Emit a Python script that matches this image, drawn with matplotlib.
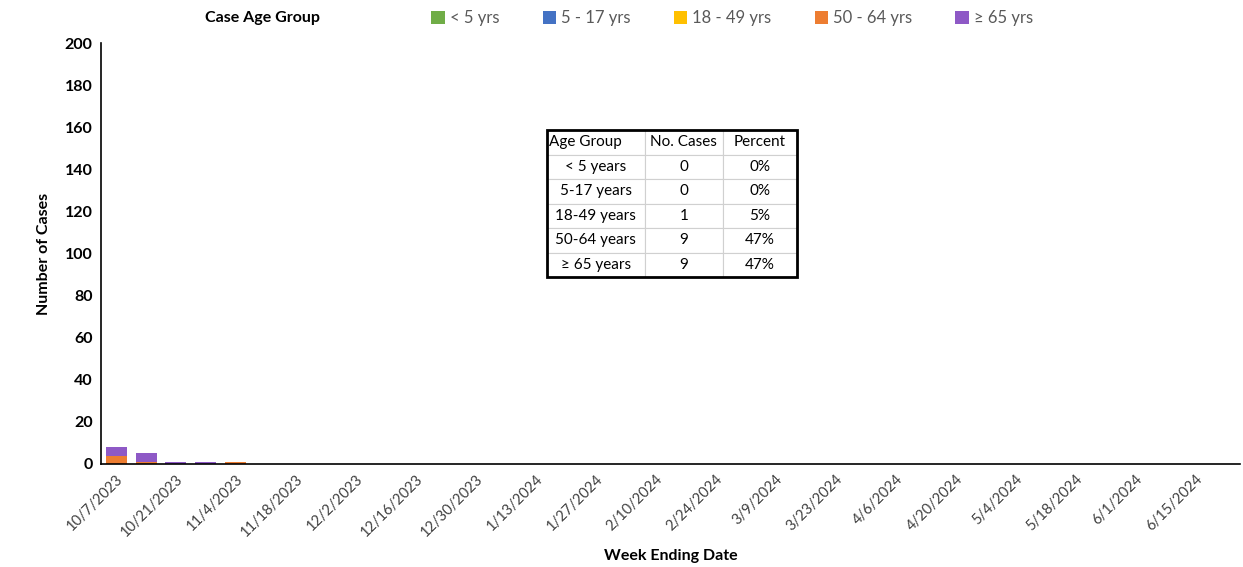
import datetime as dt
import numpy as np
from matplotlib import pyplot as plt
from matplotlib.patches import Rectangle

plt.rcParams['font.family'] = ['Lato', 'DejaVu Sans']

# weekly categories, 10/7/2023 .. 6/22/2024
start = dt.date(2023, 10, 7)
weeks = [start + dt.timedelta(days=7 * i) for i in range(38)]
week_labels = [f'{d.month}/{d.day}/{d.year}' for d in weeks]

groups = ['< 5 yrs', '5 - 17 yrs', '18 - 49 yrs', '50 - 64 yrs', '\u2265 65 yrs']
colors = ['#70AD47', '#4472C4', '#FFC000', '#ED7D31', '#8E59C6']

# cases per week per age group (only first weeks non-zero)
under5 = [0, 0, 0, 0, 0]
age5_17 = [0, 0, 0, 0, 0]
age18_49 = [0, 0, 0, 0, 0]
age50_64 = [4, 1, 0, 0, 1]
age65 = [4, 4, 1, 1, 0]
series = [under5, age5_17, age18_49, age50_64, age65]

table_rows = [['< 5 years', '0', '0%'],
              ['5-17 years', '0', '0%'],
              ['18-49 years', '1', '5%'],
              ['50-64 years', '9', '47%'],
              ['\u2265 65 years', '9', '47%']]
table_cols = ['Age Group', 'No. Cases', 'Percent']

fig = plt.figure(figsize=(12.43, 5.67), dpi=100)
ax = fig.add_axes([0.0813, 0.1817, 0.9163, 0.7423])

x = np.arange(len(weeks))
bottom = np.zeros(len(weeks))
handles = []
for vals, c, name in zip(series, colors, groups):
    v = np.zeros(len(weeks))
    v[:len(vals)] = vals
    h = ax.bar(x, v, width=0.7, bottom=bottom, color=c, label=name)
    handles.append(h)
    bottom += v

ax.set_xlim(-0.5, len(weeks) - 0.5)
ax.set_ylim(0, 200)
ax.set_yticks(range(0, 201, 20))
ax.set_xticks(x[::2])
ax.set_xticklabels(week_labels[::2], rotation=45, ha='right', rotation_mode='anchor',
                   fontsize=10.5, color='#404040')
for lab in ax.get_yticklabels():
    lab.set_fontweight('bold')
    lab.set_fontsize(11.5)
ax.tick_params(axis='both', length=0, pad=6)
ax.tick_params(axis='x', pad=6)
ax.spines['top'].set_visible(False)
ax.spines['right'].set_visible(False)
ax.spines['left'].set_linewidth(1.2)
ax.spines['bottom'].set_linewidth(1.2)
ax.set_ylabel('Number of Cases', fontweight='bold', fontsize=11.5, labelpad=10)
ax.set_xlabel('Week Ending Date', fontweight='bold', fontsize=11.5, labelpad=7)

fig.text(0.211, 0.968, 'Case Age Group', fontweight='bold', fontsize=11.5,
         ha='center', va='center')
fig.legend(handles=handles, labels=groups, loc='center', bbox_to_anchor=(0.589, 0.968),
           ncol=5, frameon=False, fontsize=12, handlelength=0.8, handleheight=0.8,
           handletextpad=0.3, columnspacing=2.6, labelcolor='#595959')

# summary table
tax = fig.add_axes([0.440, 0.5115, 0.201, 0.259])
tax.axis('off')
tbl = tax.table(cellText=table_rows, colLabels=table_cols, bbox=[0, 0, 1, 1],
                colWidths=[0.392, 0.312, 0.296], cellLoc='center')
tbl.auto_set_font_size(False)
for (r, c), cell in tbl.get_celld().items():
    cell.set_edgecolor('#d0d0d0')
    cell.set_linewidth(0.8)
    cell.get_text().set_fontsize(11)
    if r == 0 and c == 0:
        cell.get_text().set_ha('left')
        cell.PAD = 0.02
tax.add_patch(Rectangle((0, 0), 1, 1, transform=tax.transAxes, fill=False,
                        edgecolor='black', linewidth=2, zorder=5, clip_on=False))

fig.savefig('out.png', dpi=100)
